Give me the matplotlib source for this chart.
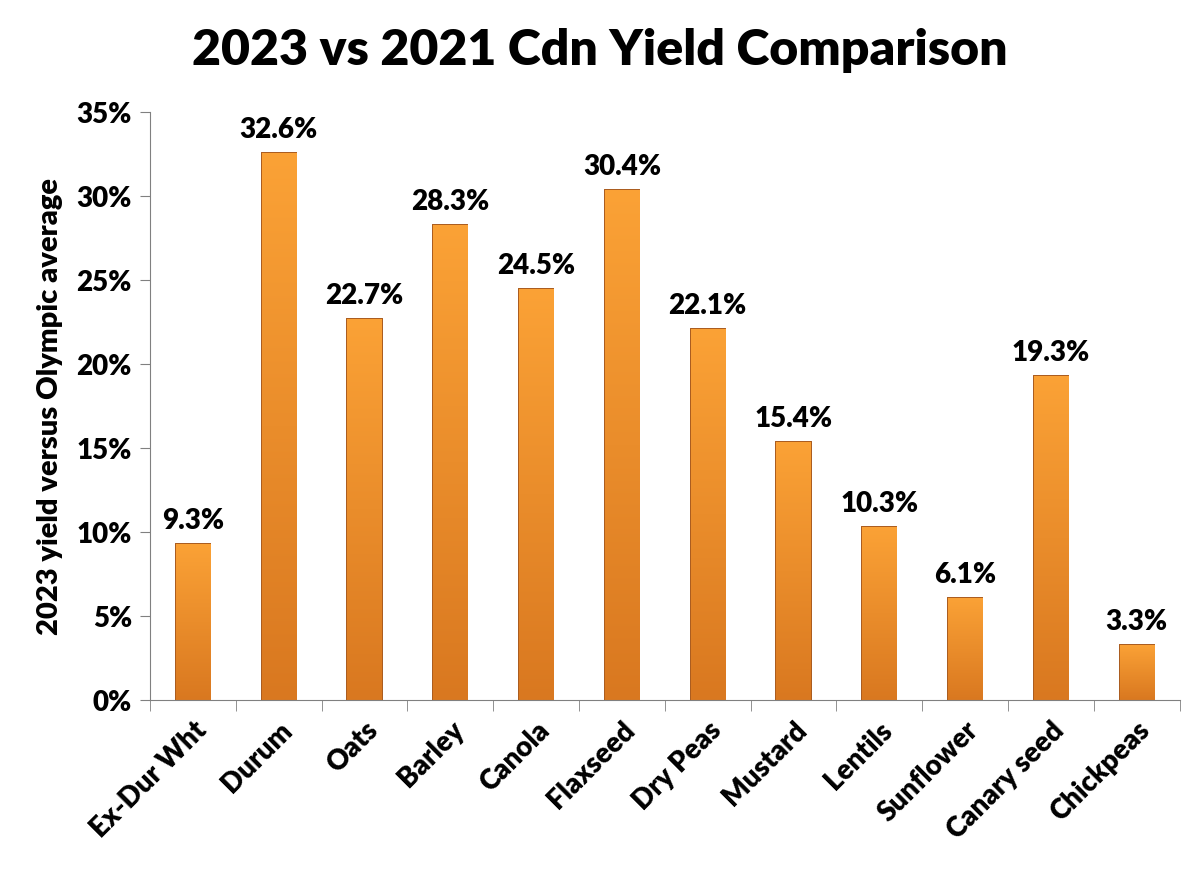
import matplotlib.pyplot as plt
import numpy as np
from matplotlib.ticker import PercentFormatter
from matplotlib.colors import LinearSegmentedColormap

crops = ['Ex-Dur Wht', 'Durum', 'Oats', 'Barley', 'Canola', 'Flaxseed',
         'Dry Peas', 'Mustard', 'Lentils', 'Sunflower', 'Canary seed', 'Chickpeas']
yield_change = [9.3, 32.6, 22.7, 28.3, 24.5, 30.4, 22.1, 15.4, 10.3, 6.1, 19.3, 3.3]
y_ticks = [0, 5, 10, 15, 20, 25, 30, 35]

plt.rcParams.update({
    'font.family': ['Lato', 'DejaVu Sans'],
    'font.weight': 'heavy',
    'axes.labelweight': 'heavy',
    'figure.facecolor': 'white',
    'axes.facecolor': 'white',
})

fig = plt.figure(figsize=(12, 8.71), dpi=100)
ax = fig.add_axes([0.125, 0.196, 0.858, 0.675])

x = np.arange(len(crops))
bars = ax.bar(x, yield_change, width=0.4, color='#F39A2E',
              edgecolor='#A9591A', linewidth=1.4, zorder=2)

# vertical gradient inside each bar, lighter at the top
grad = np.linspace(0, 1, 256).reshape(-1, 1)
cmap = LinearSegmentedColormap.from_list('orng', ['#D97820', '#FBA236'])
for b in bars:
    x0, y0 = b.get_x(), b.get_y()
    w, h = b.get_width(), b.get_height()
    im = ax.imshow(grad, extent=(x0, x0 + w, y0, y0 + h), origin='lower',
                   cmap=cmap, aspect='auto', zorder=2.5)
    im.set_clip_path(b)

for xi, v in zip(x, yield_change):
    ax.text(xi, v + 0.6, f'{v:.1f}%', ha='center', va='bottom',
            fontsize=20, fontweight='heavy')

ax.set_xlim(-0.5, len(crops) - 0.5)
ax.set_ylim(0, 35)
ax.set_yticks(y_ticks)
ax.yaxis.set_major_formatter(PercentFormatter(decimals=0))
ax.set_xticks(x)
ax.set_xticklabels(crops, rotation=45, ha='right', rotation_mode='anchor',
                   fontsize=20, fontweight='heavy')
ax.set_xticks(np.arange(-0.5, len(crops)), minor=True)
ax.tick_params(axis='x', which='major', length=0, pad=12)
ax.tick_params(axis='x', which='minor', length=8, color='#808080')
ax.tick_params(axis='y', labelsize=20, length=7, color='#808080', pad=6)
for lbl in ax.get_yticklabels():
    lbl.set_fontweight('heavy')

for s in ('top', 'right'):
    ax.spines[s].set_visible(False)
for s in ('left', 'bottom'):
    ax.spines[s].set_color('#808080')

ax.set_ylabel('2023 yield versus Olympic average', fontsize=21, labelpad=10)
fig.suptitle('2023 vs 2021 Cdn Yield Comparison', fontsize=36,
             fontweight='heavy', y=0.968)

fig.savefig('out.png', dpi=100)
